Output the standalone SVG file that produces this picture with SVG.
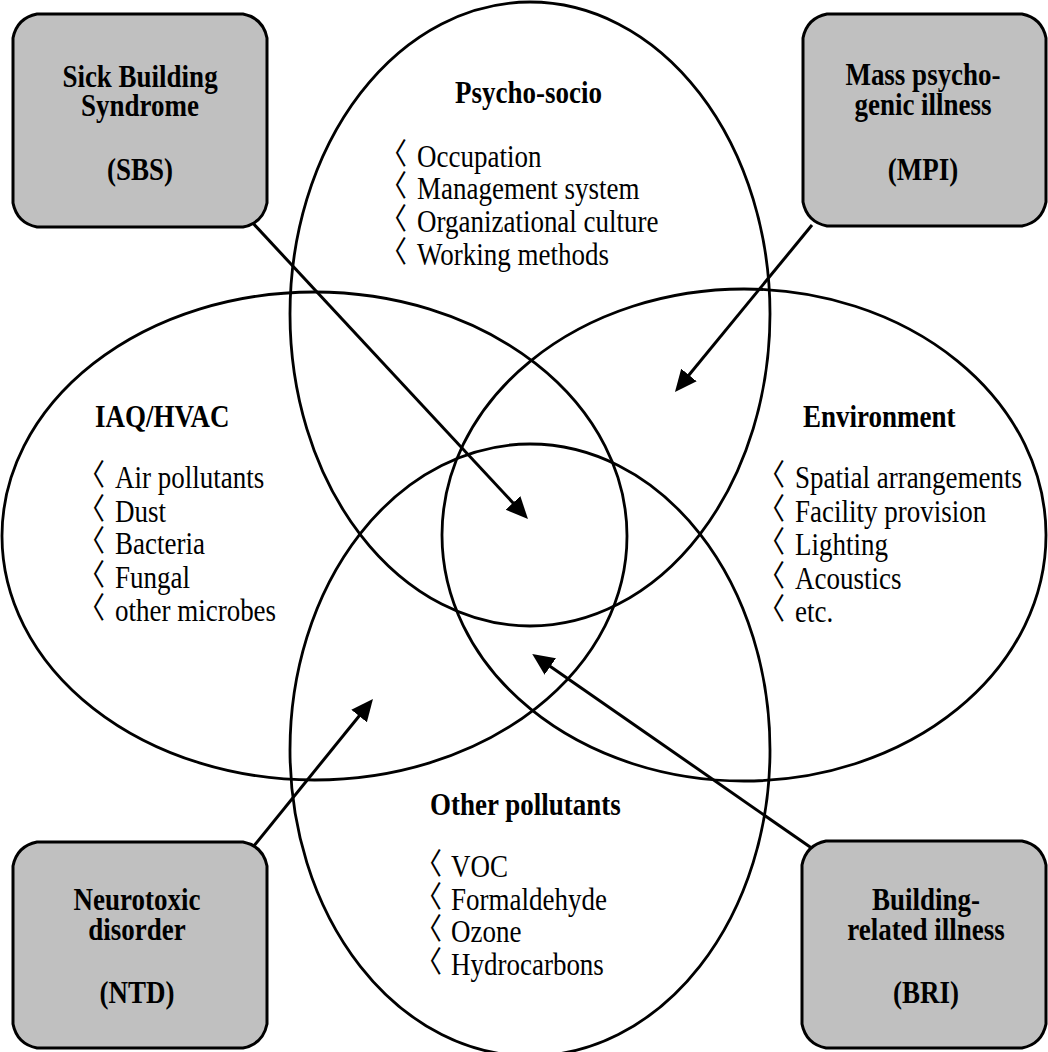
<svg xmlns="http://www.w3.org/2000/svg" width="1048" height="1052" viewBox="0 0 1048 1052">
  <style>
    .ring { fill: none; stroke: #000; stroke-width: 2.8; }
    .box { fill: #c0c0c0; stroke: #000; stroke-width: 3; stroke-linejoin: round; }
    .link { stroke: #000; stroke-width: 3; fill: none; marker-end: url(#head); }
    .title { font-family: "Liberation Serif", "Times New Roman", serif; font-weight: bold; font-size: 27px; fill: #000; }
    .boxtext { font-family: "Liberation Serif", "Times New Roman", serif; font-weight: bold; font-size: 27px; fill: #000; text-anchor: middle; }
    .item { font-family: "Liberation Serif", "Times New Roman", serif; font-size: 27px; fill: #000; }
    .mark { font-family: "Noto Sans CJK SC", "DejaVu Sans", sans-serif; font-size: 27px; fill: #000; }
  </style>
  <defs>
    <marker id="head" markerUnits="userSpaceOnUse" markerWidth="24" markerHeight="22" viewBox="0 0 24 22" refX="10" refY="11" orient="auto">
      <path d="M0,1 L22,11 L0,21 Z" fill="#000"/>
    </marker>
  </defs>

  <!-- four overlapping factor areas -->
  <g id="areas">
    <ellipse id="psycho-socio-ring" class="ring" cx="530" cy="314" rx="240" ry="312"/>
    <ellipse id="iaq-hvac-ring" class="ring" cx="314.5" cy="536" rx="312.5" ry="244"/>
    <ellipse id="environment-ring" class="ring" cx="744" cy="535" rx="302" ry="246"/>
    <ellipse id="other-pollutants-ring" class="ring" cx="530" cy="750" rx="240" ry="306"/>
  </g>

  <!-- arrows from each illness box into the overlaps -->
  <g id="connectors">
    <line class="link" x1="250" y1="220" x2="519.8" y2="510.2"/>
    <line class="link" x1="812" y1="225" x2="682.6" y2="382.7"/>
    <line class="link" x1="253" y1="847" x2="365.4" y2="708.3"/>
    <line class="link" x1="813" y1="849" x2="542.1" y2="660.8"/>
  </g>

  <!-- area labels (type is set slightly tall: scale 1 x 1.15) -->
  <g id="psycho-socio">
    <text class="title" transform="matrix(1,0,0,1.15,455,103)">Psycho-socio</text>
    <text class="mark" transform="matrix(1,0,0,1.1,380,164)">〈</text>
    <text class="item" transform="matrix(1,0,0,1.15,417,167)">Occupation</text>
    <text class="mark" transform="matrix(1,0,0,1.1,380,196)">〈</text>
    <text class="item" transform="matrix(1,0,0,1.15,417,199)">Management system</text>
    <text class="mark" transform="matrix(1,0,0,1.1,380,229)">〈</text>
    <text class="item" transform="matrix(1,0,0,1.15,417,232)">Organizational culture</text>
    <text class="mark" transform="matrix(1,0,0,1.1,380,262)">〈</text>
    <text class="item" transform="matrix(1,0,0,1.15,417,265)">Working methods</text>
  </g>

  <g id="iaq-hvac">
    <text class="title" transform="matrix(1,0,0,1.15,95,427)">IAQ/HVAC</text>
    <text class="mark" transform="matrix(1,0,0,1.1,78,485)">〈</text>
    <text class="item" transform="matrix(1,0,0,1.15,115,488)">Air pollutants</text>
    <text class="mark" transform="matrix(1,0,0,1.1,78,519)">〈</text>
    <text class="item" transform="matrix(1,0,0,1.15,115,522)">Dust</text>
    <text class="mark" transform="matrix(1,0,0,1.1,78,551)">〈</text>
    <text class="item" transform="matrix(1,0,0,1.15,115,554)">Bacteria</text>
    <text class="mark" transform="matrix(1,0,0,1.1,78,585)">〈</text>
    <text class="item" transform="matrix(1,0,0,1.15,115,588)">Fungal</text>
    <text class="mark" transform="matrix(1,0,0,1.1,78,618)">〈</text>
    <text class="item" transform="matrix(1,0,0,1.15,115,621)">other microbes</text>
  </g>

  <g id="environment">
    <text class="title" transform="matrix(1,0,0,1.15,803,427)">Environment</text>
    <text class="mark" transform="matrix(1,0,0,1.1,758,485)">〈</text>
    <text class="item" transform="matrix(1,0,0,1.15,795,488)">Spatial arrangements</text>
    <text class="mark" transform="matrix(1,0,0,1.1,758,519)">〈</text>
    <text class="item" transform="matrix(1,0,0,1.15,795,522)">Facility provision</text>
    <text class="mark" transform="matrix(1,0,0,1.1,758,552)">〈</text>
    <text class="item" transform="matrix(1,0,0,1.15,795,555)">Lighting</text>
    <text class="mark" transform="matrix(1,0,0,1.1,758,586)">〈</text>
    <text class="item" transform="matrix(1,0,0,1.15,795,589)">Acoustics</text>
    <text class="mark" transform="matrix(1,0,0,1.1,758,619)">〈</text>
    <text class="item" transform="matrix(1,0,0,1.15,795,622)">etc.</text>
  </g>

  <g id="other-pollutants">
    <text class="title" transform="matrix(1,0,0,1.15,430,815)">Other pollutants</text>
    <text class="mark" transform="matrix(1,0,0,1.1,415,874)">〈</text>
    <text class="item" transform="matrix(1,0,0,1.15,451,877)">VOC</text>
    <text class="mark" transform="matrix(1,0,0,1.1,415,907)">〈</text>
    <text class="item" transform="matrix(1,0,0,1.15,451,910)">Formaldehyde</text>
    <text class="mark" transform="matrix(1,0,0,1.1,415,939)">〈</text>
    <text class="item" transform="matrix(1,0,0,1.15,451,942)">Ozone</text>
    <text class="mark" transform="matrix(1,0,0,1.1,415,972)">〈</text>
    <text class="item" transform="matrix(1,0,0,1.15,451,975)">Hydrocarbons</text>
  </g>

  <!-- illness boxes -->
  <g id="sbs">
    <path class="box" d="M37,14 H243 Q263,18 267,38 V203 Q263,223 243,227 H37 Q17,223 13,203 V38 Q17,18 37,14 Z"/>
    <text class="boxtext" transform="matrix(1,0,0,1.15,140,87)">Sick Building</text>
    <text class="boxtext" transform="matrix(1,0,0,1.15,140,116)">Syndrome</text>
    <text class="boxtext" transform="matrix(1,0,0,1.15,140,180)">(SBS)</text>
  </g>

  <g id="mpi">
    <path class="box" d="M827,14 H1022 Q1042,18 1046,38 V202 Q1042,222 1022,226 H827 Q807,222 803,202 V38 Q807,18 827,14 Z"/>
    <text class="boxtext" transform="matrix(1,0,0,1.15,923,85)">Mass psycho-</text>
    <text class="boxtext" transform="matrix(1,0,0,1.15,923,115)">genic illness</text>
    <text class="boxtext" transform="matrix(1,0,0,1.15,923,180)">(MPI)</text>
  </g>

  <g id="ntd">
    <path class="box" d="M37,842 H243 Q263,846 267,866 V1024 Q263,1044 243,1048 H37 Q17,1044 13,1024 V866 Q17,846 37,842 Z"/>
    <text class="boxtext" transform="matrix(1,0,0,1.15,137,910)">Neurotoxic</text>
    <text class="boxtext" transform="matrix(1,0,0,1.15,137,940)">disorder</text>
    <text class="boxtext" transform="matrix(1,0,0,1.15,137,1003)">(NTD)</text>
  </g>

  <g id="bri">
    <path class="box" d="M826,841 H1022 Q1042,845 1046,865 V1024 Q1042,1044 1022,1048 H826 Q806,1044 802,1024 V865 Q806,845 826,841 Z"/>
    <text class="boxtext" transform="matrix(1,0,0,1.15,926,910)">Building-</text>
    <text class="boxtext" transform="matrix(1,0,0,1.15,926,940)">related illness</text>
    <text class="boxtext" transform="matrix(1,0,0,1.15,926,1003)">(BRI)</text>
  </g>
</svg>
